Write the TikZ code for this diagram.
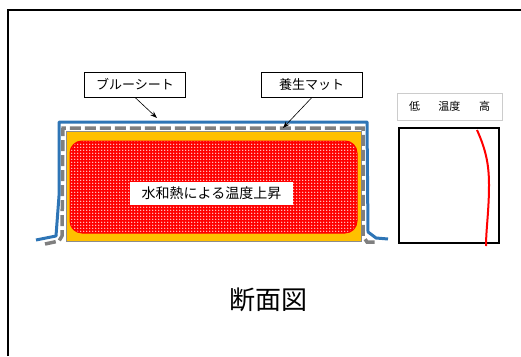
\documentclass[tikz,border=0pt]{standalone}
\usepackage{fontspec}
\setmainfont{Noto Sans CJK JP}
\usepackage{xcolor}
\usepackage{tikz}
\usetikzlibrary{arrows.meta,patterns}

\definecolor{sheetblue}{RGB}{46,117,182}
\definecolor{matgray}{RGB}{127,127,127}
\definecolor{concrete}{RGB}{255,192,0}

% white dot grid for the heated core
\pgfdeclarepatternformonly{heatdots}{\pgfqpoint{-1pt}{-1pt}}{\pgfqpoint{2pt}{2pt}}%
  {\pgfqpoint{3pt}{3pt}}{%
  \pgfpathcircle{\pgfqpoint{0pt}{0pt}}{0.85pt}\pgfusepath{fill}}

\tikzset{
  callout/.style={draw=black, fill=white, line width=0.8pt, inner sep=0pt,
    minimum width=101pt, minimum height=25pt, font=\fontsize{13}{13}\selectfont},
  pointer/.style={-{Stealth[length=7pt,width=5pt]}, line width=0.6pt},
  sheet/.style={draw=sheetblue, line width=3pt, line join=round},
  mat/.style={draw=matgray, line width=3.5pt, dash pattern=on 11pt off 4pt},
}

\begin{document}
\begin{tikzpicture}[x=1pt, y=-1pt]
\useasboundingbox (0,0) rectangle (521,356);
% outer frame
\draw[line width=2.2pt] (8,356) -- (8,10) -- (521,10);
% concrete block
\draw[fill=concrete, draw=black!45, line width=1pt] (66,131) rectangle (361,241);
% heated core
\draw[draw=red, line width=1pt, rounded corners=12pt, preaction={fill=red},
  pattern=heatdots, pattern color=white] (70,141) rectangle (357,233);
\node[fill=white, inner sep=0pt, minimum width=163pt, minimum height=23pt,
  font=\fontsize{14}{14}\selectfont] (heat) at (211.5,193.5) {水和熱による温度上昇};
% curing mat
\draw[mat] (45,244) -- (59,241) -- (62,236) -- (63,128) -- (363,128)
  -- (363,236) -- (367,242) -- (378,242);
% blue sheet
\draw[sheet] (36,240) -- (56,236) -- (59,196) -- (59,122) -- (367,122)
  -- (368,232) -- (376,238) -- (388,239);
% labels
\node[callout] (sheetlbl) at (135,84.5) {ブルーシート};
\node[callout] (matlbl) at (311.5,85) {養生マット};
\coordinate (sheettip) at (157,118);
\coordinate (mattip) at (283,128);
\draw[pointer] (sheetlbl.south) -- (sheettip);
\draw[pointer] (matlbl.south) -- (mattip);
% temperature profile
\node[draw=black!20, line width=1pt, minimum width=105pt, minimum height=27pt,
  inner sep=0pt, font=\fontsize{11}{11}\selectfont] (templbl) at (449.5,106.5)
  {低\hspace{18.5pt}温度\hspace{18.5pt}高};
\node[draw=black, line width=1.3pt, minimum width=100pt, minimum height=115pt,
  inner sep=0pt] (chart) at (449,185.5) {};
\draw[red, line width=2pt] (477,130) .. controls (486,150) and (489,165) .. (489,185)
  .. controls (489,210) and (486,230) .. (486,246);
% title
\node[font=\fontsize{26}{26}\selectfont] (title) at (268.5,300) {断面図};
\end{tikzpicture}
\end{document}
